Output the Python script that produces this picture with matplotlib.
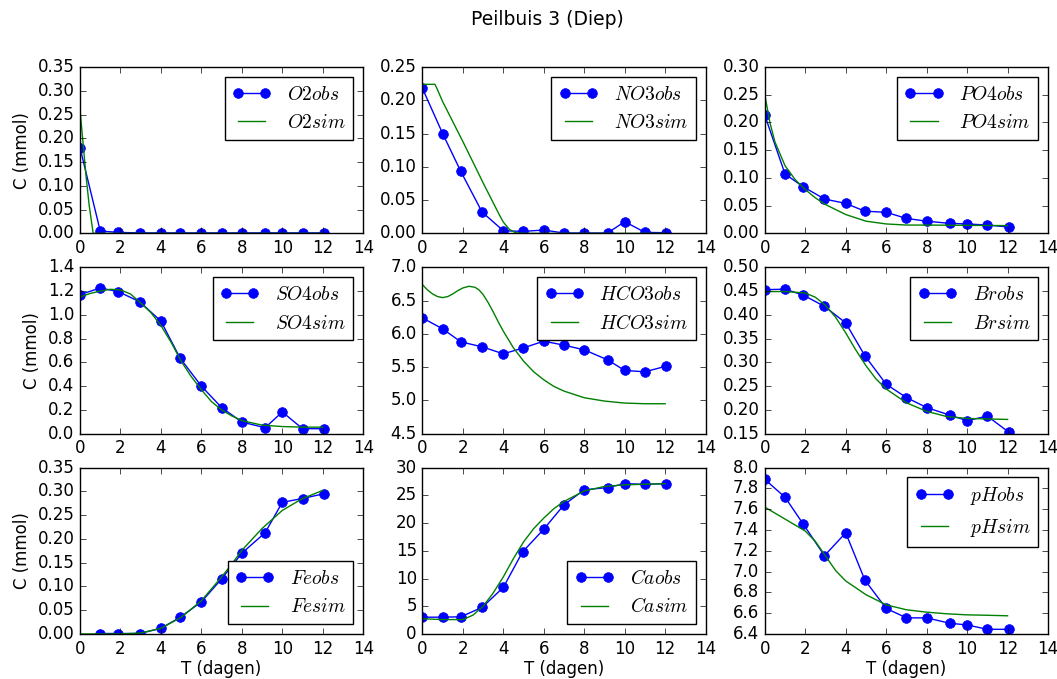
import matplotlib
matplotlib.use("Agg")
import matplotlib.pyplot as plt

plt.style.use("classic")
plt.rcParams["font.family"] = ["DejaVu Sans"]
plt.rcParams["mathtext.fontset"] = "cm"

# Observation times (days)
t_obs = [0, 1, 1.9, 2.95, 4, 4.95, 6, 7, 8, 9.15, 10, 11, 12.05]

# Observed concentrations
o2_obs = [0.18, 0.005, 0.002, 0.001, 0.001, 0.001, 0.001, 0.001, 0.001, 0.001, 0.001, 0.001, 0.001]
no3_obs = [0.218, 0.150, 0.093, 0.032, 0.004, 0.003, 0.005, 0.0005, 0.0005, 0.0005, 0.0176, 0.0015, 0.001]
po4_obs = [0.213, 0.107, 0.084, 0.062, 0.054, 0.040, 0.038, 0.027, 0.022, 0.018, 0.017, 0.015, 0.0115]
so4_obs = [1.17, 1.226, 1.195, 1.11, 0.947, 0.635, 0.40, 0.22, 0.098, 0.05, 0.183, 0.042, 0.042]
hco3_obs = [6.24, 6.075, 5.88, 5.805, 5.70, 5.785, 5.89, 5.83, 5.76, 5.61, 5.45, 5.43, 5.515]
br_obs = [0.453, 0.454, 0.4416, 0.4178, 0.383, 0.3137, 0.254, 0.226, 0.205, 0.189, 0.1774, 0.187, 0.1535]
t_fe_obs = [1, 1.9, 2.95, 4, 4.95, 6, 7, 8, 9.15, 10, 11, 12.05]
fe_obs = [0.001, 0.001, 0.001, 0.012, 0.035, 0.0676, 0.116, 0.170, 0.213, 0.277, 0.285, 0.295]
ca_obs = [3.03, 3.03, 3.1, 4.8, 8.4, 14.8, 18.9, 23.3, 26.0, 26.4, 27.1, 27.0, 27.1]
ph_obs = [7.887, 7.715, 7.457, 7.153, 7.373, 6.917, 6.646, 6.555, 6.555, 6.503, 6.487, 6.445, 6.445]

# Simulated concentrations
t_o2_sim = [0, 0.15, 0.3, 0.45, 0.65, 1, 2, 4, 6, 8, 10, 12]
o2_sim = [0.26, 0.19, 0.12, 0.06, 0.0, 0, 0, 0, 0, 0, 0, 0]

t_no3_sim = [0, 0.62, 0.7, 1, 2, 3, 3.5, 3.8, 4, 4.3, 4.6, 5, 6, 8, 10, 12]
no3_sim = [0.224, 0.224, 0.219, 0.198, 0.138, 0.076, 0.046, 0.028, 0.017, 0.006, 0.001, 0.0, 0, 0, 0, 0]

t_po4_sim = [0, 0.25, 0.5, 1, 1.5, 2, 2.5, 3, 4, 5, 6, 7, 8, 10, 12]
po4_sim = [0.25, 0.20, 0.165, 0.122, 0.097, 0.079, 0.064, 0.052, 0.034, 0.022, 0.017, 0.015, 0.015, 0.0145, 0.014]

t_so4_sim = [0, 0.5, 1, 1.5, 2, 2.5, 3, 3.5, 4, 4.5, 5, 5.5, 6, 6.5, 7, 7.5, 8, 9, 10, 11, 12]
so4_sim = [1.15, 1.18, 1.20, 1.215, 1.21, 1.175, 1.10, 1.02, 0.91, 0.77, 0.61, 0.48, 0.37, 0.27, 0.20, 0.15, 0.11, 0.072, 0.06, 0.055, 0.055]

t_hco3_sim = [0, 0.25, 0.5, 0.75, 1, 1.25, 1.5, 1.75, 2, 2.3, 2.6, 2.8, 3, 3.25, 3.5, 3.75, 4, 4.5, 5, 5.5, 6, 6.5, 7, 8, 9, 10, 11, 12]
hco3_sim = [6.74, 6.66, 6.60, 6.56, 6.545, 6.56, 6.60, 6.65, 6.69, 6.715, 6.70, 6.66, 6.59, 6.47, 6.33, 6.18, 6.04, 5.79, 5.59, 5.43, 5.31, 5.21, 5.14, 5.04, 4.99, 4.96, 4.95, 4.95]

t_br_sim = [0, 1, 2, 2.5, 3, 3.5, 4, 4.5, 5, 5.5, 6, 7, 8, 9, 10, 11, 12]
br_sim = [0.449, 0.449, 0.446, 0.437, 0.42, 0.395, 0.362, 0.326, 0.293, 0.265, 0.244, 0.215, 0.197, 0.186, 0.182, 0.181, 0.180]

t_fe_sim = [0, 1, 2, 3, 4, 5, 6, 7, 7.5, 8, 9, 10, 11, 12]
fe_sim = [0, 0, 0, 0.002, 0.012, 0.035, 0.07, 0.12, 0.147, 0.176, 0.222, 0.26, 0.285, 0.302]

t_ca_sim = [0, 1, 2, 2.5, 3, 3.5, 4, 4.5, 5, 5.5, 6, 6.5, 7, 8, 9, 10, 11, 12]
ca_sim = [2.75, 2.6, 2.6, 3.4, 5.0, 7.4, 10.3, 13.6, 16.6, 19.0, 20.9, 22.6, 23.9, 25.8, 26.6, 26.9, 27.0, 27.1]

t_ph_sim = [0, 1, 2, 2.5, 3, 3.5, 4, 5, 6, 7, 8, 9, 10, 11, 12]
ph_sim = [7.62, 7.505, 7.39, 7.29, 7.15, 7.01, 6.91, 6.778, 6.68, 6.633, 6.61, 6.594, 6.584, 6.58, 6.575]

panels = [
    ("O2", t_obs, o2_obs, t_o2_sim, o2_sim, (0, 0.35), 0.05, 1),
    ("NO3", t_obs, no3_obs, t_no3_sim, no3_sim, (0, 0.25), 0.05, 1),
    ("PO4", t_obs, po4_obs, t_po4_sim, po4_sim, (0, 0.30), 0.05, 1),
    ("SO4", t_obs, so4_obs, t_so4_sim, so4_sim, (0, 1.4), 0.2, 1),
    ("HCO3", t_obs, hco3_obs, t_hco3_sim, hco3_sim, (4.5, 7.0), 0.5, 1),
    ("Br", t_obs, br_obs, t_br_sim, br_sim, (0.15, 0.50), 0.05, 1),
    ("Fe", t_fe_obs, fe_obs, t_fe_sim, fe_sim, (0, 0.35), 0.05, 4),
    ("Ca", t_obs, ca_obs, t_ca_sim, ca_sim, (0, 30), 5, 4),
    ("pH", t_obs, ph_obs, t_ph_sim, ph_sim, (6.4, 8.0), 0.2, 1),
]

fig, axes = plt.subplots(3, 3, figsize=(10.57, 6.79), dpi=100)
fig.patch.set_facecolor("white")
fig.subplots_adjust(left=0.0757, right=0.9915, bottom=0.0663, top=0.9013,
                    wspace=0.209, hspace=0.204)

for i, (name, to, yo, ts, ys, ylim, ystep, loc) in enumerate(panels):
    ax = axes[i // 3][i % 3]
    ax.plot(to, yo, "b-o", ms=7, mec="b", lw=1.0, label=r"$%sobs$" % name)
    ax.plot(ts, ys, "g-", lw=1.0, label=r"$%ssim$" % name)
    ax.set_xlim(0, 14)
    ax.set_xticks(range(0, 15, 2))
    ax.set_ylim(*ylim)
    n = int(round((ylim[1] - ylim[0]) / ystep))
    ticks = [ylim[0] + k * ystep for k in range(n + 1)]
    ax.set_yticks(ticks)
    if ystep < 0.1:
        ax.set_yticklabels(["%.2f" % v for v in ticks])
    elif ystep < 1:
        ax.set_yticklabels(["%.1f" % v for v in ticks])
    else:
        ax.set_yticklabels(["%d" % v for v in ticks])
    ax.tick_params(labelsize=12)
    if i % 3 == 0:
        ax.set_ylabel("C (mmol)", fontsize=12)
    if i // 3 == 2:
        ax.set_xlabel("T (dagen)", fontsize=12, labelpad=2)
    leg = ax.legend(loc=loc, numpoints=2, fontsize=14, fancybox=False,
                    borderaxespad=0.5)
    leg.get_frame().set_edgecolor("black")

fig.text(0.518, 0.971, "Peilbuis 3 (Diep)", fontsize=13.5,
         ha="center", va="center")

fig.savefig("out.png", dpi=100, facecolor="white")
